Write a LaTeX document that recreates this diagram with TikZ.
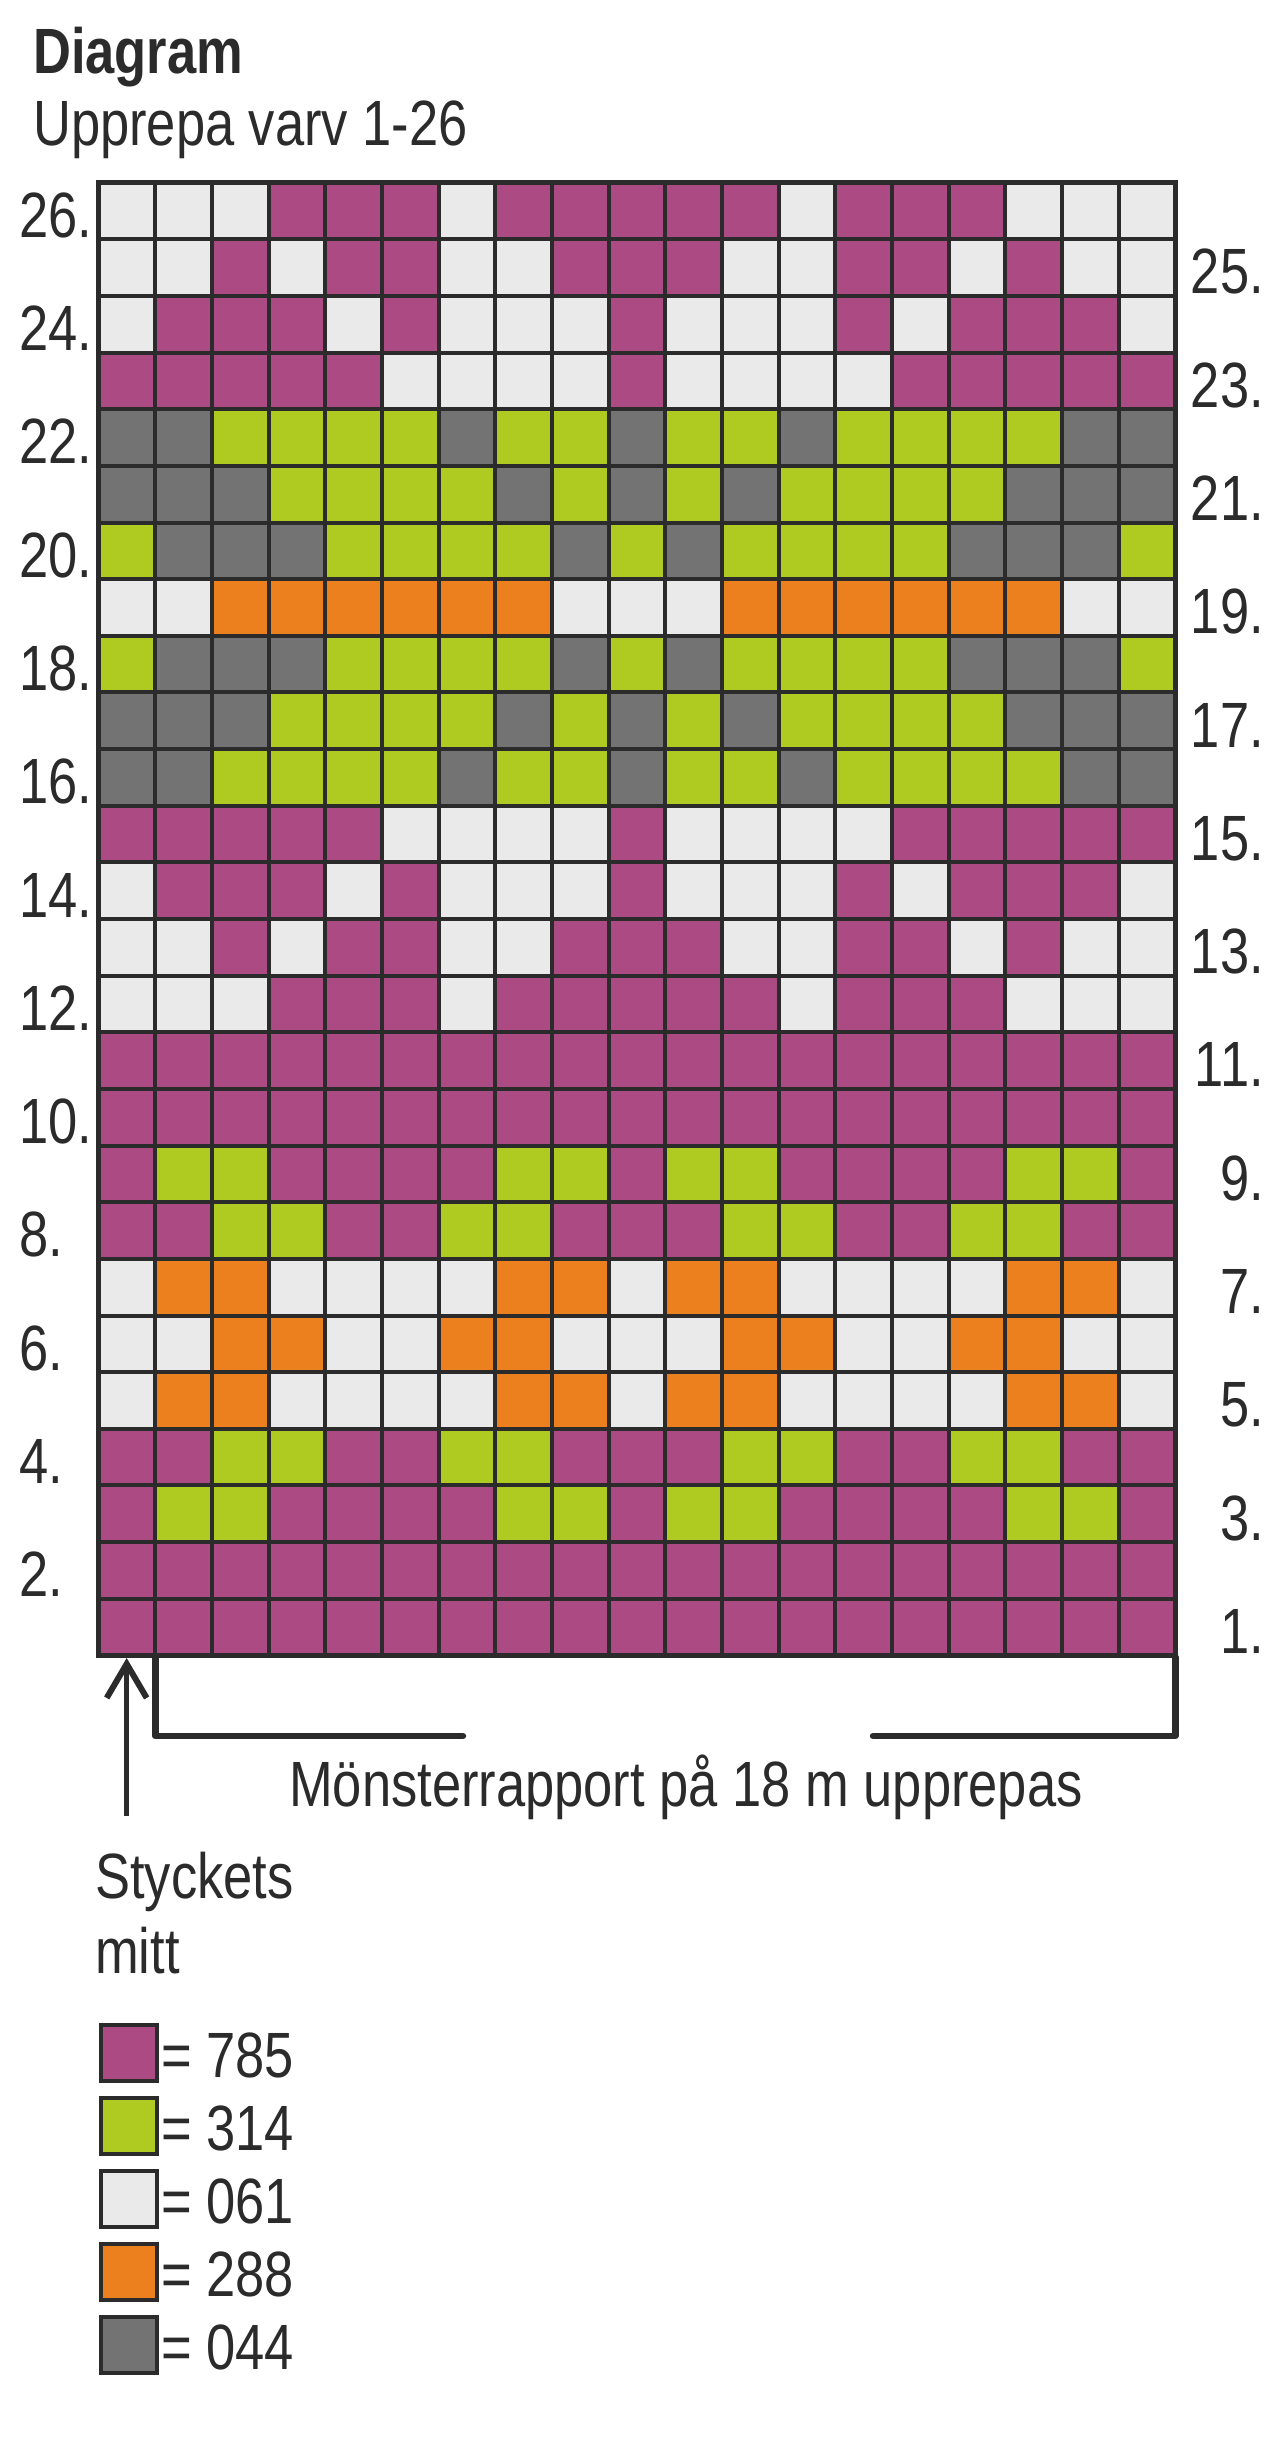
\documentclass[tikz,border=0pt]{standalone}
\usepackage{fontspec}
\setmainfont{Liberation Sans}[FakeStretch=0.82]
\usetikzlibrary{arrows.meta}
\definecolor{cM}{HTML}{AC4A84}
\definecolor{cG}{HTML}{AFCA20}
\definecolor{cW}{HTML}{EAEAEA}
\definecolor{cO}{HTML}{ED801E}
\definecolor{cD}{HTML}{737373}
\definecolor{ink}{HTML}{2B2B2B}
\newcommand{\chartrow}[2]{%
  \foreach \c [count=\i] in {#2} {%
    \fill[fill=c\c] ({98.7+(\i-1)*56.66},{182.7+(26-#1)*56.64}) rectangle +(56.66,56.64);
  }%
}
\tikzset{
  lbl/.style={font=\fontsize{64}{75}\selectfont, inner sep=0pt, text=ink},
  gridline/.style={draw=ink, line width=4pt},
  bracketline/.style={draw=ink, line width=6.5pt, line cap=round, line join=round},
  arrowline/.style={draw=ink, line width=5pt, -{Straight Barb[length=34pt,width=40pt,line width=6pt]}},
  legbox/.style={draw=ink, line width=3.5pt, minimum width=56pt, minimum height=56pt, inner sep=0pt, anchor=north west}
}
\begin{document}
\begin{tikzpicture}[x=1pt,y=-1pt]
\useasboundingbox (0,0) rectangle (1280,2437);
% titles
\node[lbl, anchor=base west, font=\fontsize{64}{75}\selectfont\bfseries] (title) at (33,73) {Diagram};
\node[lbl, anchor=base west] (subtitle) at (33,145) {Upprepa varv 1-26};
% chart cells
\chartrow{26}{W,W,W,M,M,M,W,M,M,M,M,M,W,M,M,M,W,W,W}
\chartrow{25}{W,W,M,W,M,M,W,W,M,M,M,W,W,M,M,W,M,W,W}
\chartrow{24}{W,M,M,M,W,M,W,W,W,M,W,W,W,M,W,M,M,M,W}
\chartrow{23}{M,M,M,M,M,W,W,W,W,M,W,W,W,W,M,M,M,M,M}
\chartrow{22}{D,D,G,G,G,G,D,G,G,D,G,G,D,G,G,G,G,D,D}
\chartrow{21}{D,D,D,G,G,G,G,D,G,D,G,D,G,G,G,G,D,D,D}
\chartrow{20}{G,D,D,D,G,G,G,G,D,G,D,G,G,G,G,D,D,D,G}
\chartrow{19}{W,W,O,O,O,O,O,O,W,W,W,O,O,O,O,O,O,W,W}
\chartrow{18}{G,D,D,D,G,G,G,G,D,G,D,G,G,G,G,D,D,D,G}
\chartrow{17}{D,D,D,G,G,G,G,D,G,D,G,D,G,G,G,G,D,D,D}
\chartrow{16}{D,D,G,G,G,G,D,G,G,D,G,G,D,G,G,G,G,D,D}
\chartrow{15}{M,M,M,M,M,W,W,W,W,M,W,W,W,W,M,M,M,M,M}
\chartrow{14}{W,M,M,M,W,M,W,W,W,M,W,W,W,M,W,M,M,M,W}
\chartrow{13}{W,W,M,W,M,M,W,W,M,M,M,W,W,M,M,W,M,W,W}
\chartrow{12}{W,W,W,M,M,M,W,M,M,M,M,M,W,M,M,M,W,W,W}
\chartrow{11}{M,M,M,M,M,M,M,M,M,M,M,M,M,M,M,M,M,M,M}
\chartrow{10}{M,M,M,M,M,M,M,M,M,M,M,M,M,M,M,M,M,M,M}
\chartrow{9}{M,G,G,M,M,M,M,G,G,M,G,G,M,M,M,M,G,G,M}
\chartrow{8}{M,M,G,G,M,M,G,G,M,M,M,G,G,M,M,G,G,M,M}
\chartrow{7}{W,O,O,W,W,W,W,O,O,W,O,O,W,W,W,W,O,O,W}
\chartrow{6}{W,W,O,O,W,W,O,O,W,W,W,O,O,W,W,O,O,W,W}
\chartrow{5}{W,O,O,W,W,W,W,O,O,W,O,O,W,W,W,W,O,O,W}
\chartrow{4}{M,M,G,G,M,M,G,G,M,M,M,G,G,M,M,G,G,M,M}
\chartrow{3}{M,G,G,M,M,M,M,G,G,M,G,G,M,M,M,M,G,G,M}
\chartrow{2}{M,M,M,M,M,M,M,M,M,M,M,M,M,M,M,M,M,M,M}
\chartrow{1}{M,M,M,M,M,M,M,M,M,M,M,M,M,M,M,M,M,M,M}
% grid lines
\foreach \i in {1,...,18} {\draw[gridline] ({98.7+\i*56.66},182.7) -- ({98.7+\i*56.66},1655.3);}
\foreach \j in {1,...,25} {\draw[gridline] (98.7,{182.7+\j*56.64}) -- (1175.3,{182.7+\j*56.64});}
\draw[gridline, line width=4.5pt] (98.7,182.7) rectangle (1175.3,1655.3);
% row numbers
\foreach \r in {26,24,...,2} {\node[lbl, anchor=base west] (L\r) at (19,{182.7+(27-\r)*56.64-2}) {\r.};}
\foreach \r in {25,23,...,1} {\node[lbl, anchor=base east] (R\r) at (1264,{182.7+(27-\r)*56.64-2}) {\r.};}
% centre arrow
\coordinate (arrtail) at (126.7,1816);
\coordinate (arrtip) at (126.7,1658);
\draw[arrowline] (arrtail) -- (arrtip);
% repeat bracket
\coordinate (bA) at (155.3,1657);
\coordinate (bB) at (155.3,1736);
\coordinate (bC) at (463,1736);
\coordinate (bD) at (873,1736);
\coordinate (bE) at (1175.3,1736);
\coordinate (bF) at (1175.3,1657);
\draw[bracketline] (bA) -- (bB) -- (bC);
\draw[bracketline] (bD) -- (bE) -- (bF);
\node[lbl, anchor=base west] (repeat) at (289,1806) {Mönsterrapport på 18 m upprepas};
\node[lbl, anchor=base west] (mid1) at (95,1898) {Styckets};
\node[lbl, anchor=base west] (mid2) at (95,1973) {mitt};
% legend
\foreach \col/\txt [count=\k from 0] in {cM/785,cG/314,cW/061,cO/288,cD/044} {
  \node[legbox, fill=\col] (box\k) at (99,{2023+73*\k}) {};
  \node[lbl, anchor=base west] (leg\k) at (161,{2077+73*\k}) {= \txt};
}
\end{tikzpicture}
\end{document}
